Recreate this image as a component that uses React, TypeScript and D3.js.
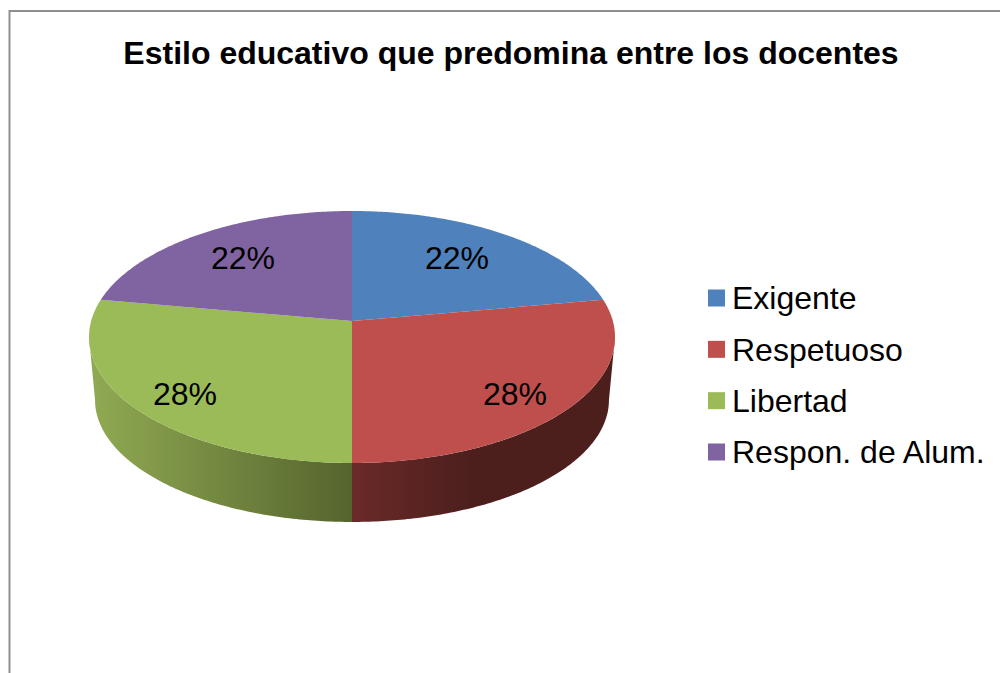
import React from "react";
import * as d3 from "d3";

const categories = ["Exigente", "Respetuoso", "Libertad", "Respon. de Alum."];
const shares = [22.2, 27.8, 27.8, 22.2];
const sliceColors = ["#4f81bd", "#be4f4c", "#9bbb59", "#8064a2"];
const wallGradients: (string[] | null)[] = [null, ["#6a2a28", "#4c1f1d"], ["#8fa952", "#55642d"], null];
const titleText = "Estilo educativo que predomina entre los docentes";

const W = 1000, H = 673;
const cx = 352;
const apexY = 321, topY = 211, botY = 463;
const depthScaleX = 0.977, depthScaleY = 0.968, lowerCy = 400, ellipseCy = (topY + botY) / 2;
// projective view of a tilted disc: the apex sits above the ellipse centre
const B = apexY;
const C = (2 * B - topY - botY) / (botY - topY);
const A = botY - B + botY * C;
const R = 263 * Math.sqrt(1 - C * C);
// angle at which the outline reaches its widest point: the wall is visible below it
const sideAngle = Math.acos(C);

const project = (a: number): [number, number] => {
  const u = Math.sin(a), v = -Math.cos(a), d = 1 + C * v;
  return [cx + (R * u) / d, (A * v + B) / d];
};
const lower = (a: number): [number, number] => {
  const [x, y] = project(a);
  return [cx + (x - cx) * depthScaleX, lowerCy + (y - ellipseCy) * depthScaleY];
};

const pie = d3.pie<number>().sort(null).startAngle(0).endAngle(2 * Math.PI);
const arcs = pie(shares);
const line = d3.line();
const sample = (s: number, e: number) => d3.range(0, 121).map((i) => s + ((e - s) * i) / 120);

const topPath = (s: number, e: number) => line([[cx, apexY], ...sample(s, e).map(project)])! + "Z";
const wallPath = (s0: number, e0: number) => {
  const s = Math.max(s0, sideAngle), e = Math.min(e0, 2 * Math.PI - sideAngle);
  return line([...sample(s, e).map(project), ...sample(s, e).reverse().map(lower)])! + "Z";
};

const labelPos = [
  [457, 258],
  [515, 394],
  [185, 394],
  [243, 258],
];
const legendY = d3.scalePoint<string>().domain(categories).range([298, 452]);

export default function App() {
  const font = "'Liberation Sans', Arial, sans-serif";
  return (
    <svg width={W} height={H} viewBox={`0 0 ${W} ${H}`} style={{ position: "absolute", left: 0, top: 0, background: "#fff" }} fontFamily={font}>
      <defs>
        <linearGradient id="wall1" gradientUnits="userSpaceOnUse" x1={352} x2={470} y1={0} y2={0}>
          <stop offset="0" stopColor={wallGradients[1]![0]} />
          <stop offset="1" stopColor={wallGradients[1]![1]} />
        </linearGradient>
        <linearGradient id="wall2" gradientUnits="userSpaceOnUse" x1={95} x2={352} y1={0} y2={0}>
          <stop offset="0" stopColor={wallGradients[2]![0]} />
          <stop offset="1" stopColor={wallGradients[2]![1]} />
        </linearGradient>
      </defs>
      <path d={`M9.5 673V11H1000`} fill="none" stroke="#8f8f8f" strokeWidth={2} />
      <text x={511} y={64} textAnchor="middle" fontWeight="bold" fontSize={32} fill="#000">{titleText}</text>
      {arcs.map((d, i) =>
        wallGradients[i] ? <path key={i} d={wallPath(d.startAngle, d.endAngle)} fill={`url(#wall${i})`} /> : null
      )}
      {arcs.map((d, i) => (
        <path key={i} d={topPath(d.startAngle, d.endAngle)} fill={sliceColors[i]} />
      ))}
      {arcs.map((d, i) => (
        <text key={i} x={labelPos[i][0]} y={labelPos[i][1]} dy="0.35em" textAnchor="middle" fontSize={32} fill="#000">
          {`${Math.round(d.data)}%`}
        </text>
      ))}
      {categories.map((c, i) => (
        <g key={c}>
          <rect x={708} y={legendY(c)! - 8.5} width={17} height={17} fill={sliceColors[i]} />
          <text x={732} y={legendY(c)!} dy="0.35em" fontSize={32} fill="#000">{c}</text>
        </g>
      ))}
    </svg>
  );
}
